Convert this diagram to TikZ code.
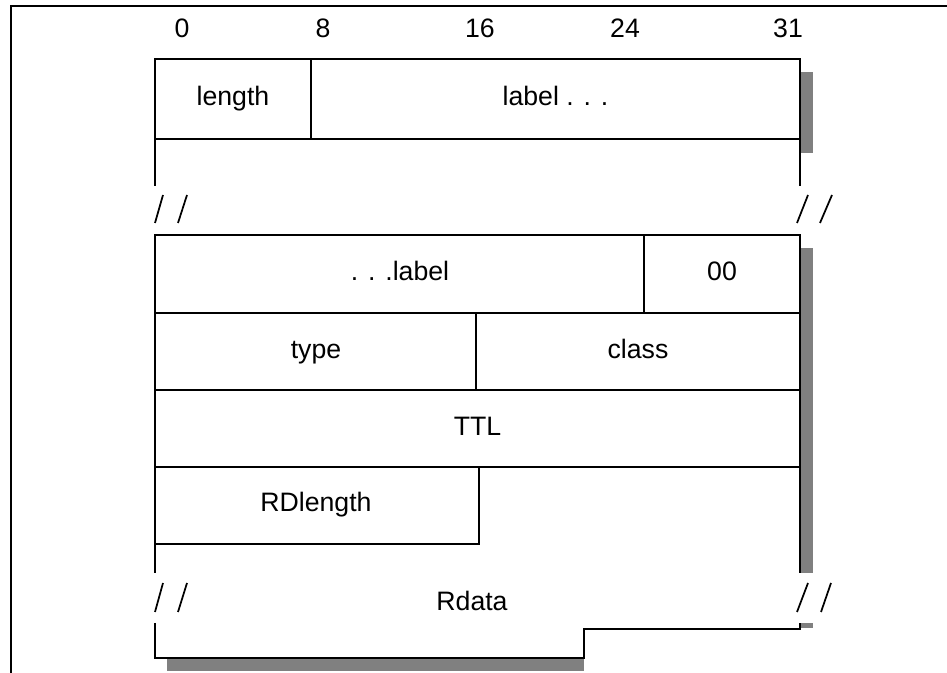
\documentclass[tikz,border=0pt]{standalone}
\usepackage{fontspec}
\setmainfont{Liberation Sans}
\begin{document}
\begin{tikzpicture}[x=0.75pt,y=-0.75pt,
  rule/.style={line width=1.6pt, line join=miter},
  thin rule/.style={line width=1.3pt},
  shadow/.style={fill=black!50, draw=none},
  lbl/.style={font=\fontsize{20}{24}\selectfont, inner sep=0pt, text height=14.4pt, text depth=2pt}]
\useasboundingbox (0,0) rectangle (947,673);
% page frame
\draw[rule] (11,673) -- (11,6) -- (947,6);
% shadows
\fill[shadow] (800,72) rectangle (813,153);
\fill[shadow] (800,248) rectangle (813,573);
\fill[shadow] (800,623) rectangle (813,628);
\fill[shadow] (167,658) rectangle (584,671);
% bit numbers
\node[lbl] (n0)  at (182,29.5) {0};
\node[lbl] (n8)  at (323,29.5) {8};
\node[lbl] (n16) at (480,29.5) {16};
\node[lbl] (n24) at (625,29.5) {24};
\node[lbl] (n31) at (788,29.5) {31};
% first block
\draw[rule] (155,59) rectangle (800,139);
\draw[rule] (311,59) -- (311,139);
\draw[rule] (155,139) -- (155,186);
\draw[rule] (800,139) -- (800,186);
\node[lbl] (length) at (233,97) {length};
\node[lbl] (labelA) at (555.5,97) {label . . .};
% break marks
\draw[thin rule] (155,223) -- (163,195);
\draw[thin rule] (178,223) -- (187,195);
\draw[thin rule] (797,223) -- (808,195);
\draw[thin rule] (820,223) -- (832,195);
\draw[thin rule] (155,612) -- (163,583);
\draw[thin rule] (178,612) -- (187,583);
\draw[thin rule] (797,612) -- (808,583);
\draw[thin rule] (821,612) -- (831,583);
% second block
\draw[rule] (155,573) -- (155,235) -- (800,235) -- (800,573);
\draw[rule] (155,313) -- (800,313);
\draw[rule] (155,390) -- (800,390);
\draw[rule] (155,467) -- (800,467);
\draw[rule] (644,235) -- (644,313);
\draw[rule] (476,313) -- (476,390);
\draw[rule] (155,544) -- (479,544) -- (479,466);
\node[lbl] (labelB) at (400,272) {. . .label};
\node[lbl] (zero) at (722,272) {00};
\node[lbl] (type) at (316,350) {type};
\node[lbl] (class) at (638,350) {class};
\node[lbl] (ttl) at (477.5,427) {TTL};
\node[lbl] (rdlength) at (316,503) {RDlength};
% Rdata
\node[lbl] (rdata) at (472,602) {Rdata};
\draw[rule] (155,623) -- (155,658) -- (584,658) -- (584,629) -- (800,629) -- (800,623);
\end{tikzpicture}
\end{document}
